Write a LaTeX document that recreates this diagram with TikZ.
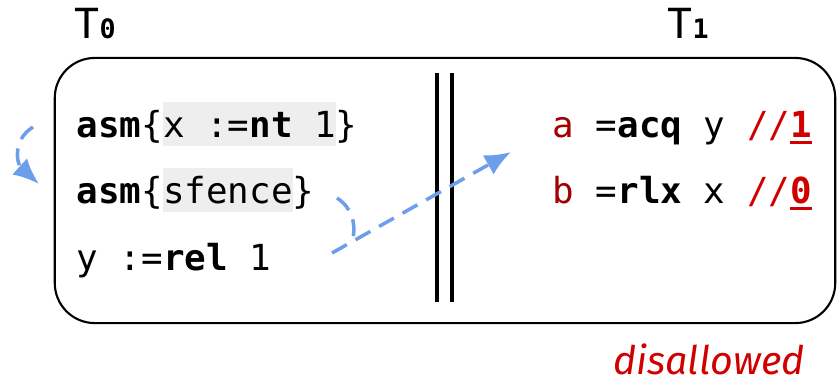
\documentclass[tikz,border=0pt]{standalone}
\usepackage{fontspec}
\setmonofont{DejaVu Sans Mono}
\newfontfamily\notefont{Fira Sans}
\usepackage{xcolor}
\usepackage{tikz}
\usetikzlibrary{arrows.meta,positioning,calc}

\definecolor{flowblue}{HTML}{6D9EEB}
\definecolor{valred}{HTML}{A50000}
\definecolor{outred}{HTML}{D00000}
\definecolor{codebg}{HTML}{EEEEEE}

\newcommand{\hlbox}[1]{{\setlength{\fboxsep}{0pt}\colorbox{codebg}{\rule[-0.09cm]{0pt}{0.44cm}#1}}}
\newcommand{\ulbold}[1]{{\setbox0\hbox{\textbf{#1}}\rlap{\rule[-0.07cm]{\wd0}{0.035cm}}\box0}}
\newcommand{\rdval}[1]{{\color{outred}//\ulbold{#1}}}

\begin{document}
\begin{tikzpicture}[
  x=0.01cm, y=-0.01cm,
  code/.style={inner sep=0pt, anchor=base west, font=\ttfamily\fontsize{10.2}{12}\selectfont},
  thread/.style={inner sep=0pt, anchor=base west, font=\ttfamily\fontsize{11.8}{14}\selectfont},
  threadbox/.style={rectangle, draw, line width=0.6pt, rounded corners=0.4cm, minimum width=7.8cm, minimum height=2.65cm, inner sep=0pt},
  flow/.style={draw=flowblue, line width=1pt, dash pattern=on 0.17cm off 0.1cm},
  tip/.style={-{Latex[length=0.26cm, width=0.22cm]}}
]
\useasboundingbox (0,0) rectangle (840,381);

\node[threadbox] (box) at (445,190.5) {};

\node[thread] (t0) at (74,38) {T{\fontsize{7.6}{9}\selectfont\bfseries 0}};
\node[thread] (t1) at (667,38) {T{\fontsize{7.6}{9}\selectfont\bfseries 1}};

\node[code] (l1) at (76,137) {\textbf{asm}\{\hlbox{x :=\textbf{nt} 1}\}};
\node[code] (l2) at ($(l1.base west)+(0,66)$) {\textbf{asm}\{\hlbox{sfence}\}};
\node[code] (l3) at ($(l2.base west)+(0,67)$) {y :=\textbf{rel} 1};

\node[code] (r1) at ($(l1.base west)+(476,0)$) {{\color{valred}a} =\textbf{acq} y \rdval{1}};
\node[code] (r2) at ($(l2.base west)+(476,0)$) {{\color{valred}b} =\textbf{rlx} x \rdval{0}};

\draw[line width=1.1pt] (437,73) -- (437,302);
\draw[line width=1.1pt] (452,73) -- (452,302);

\node[anchor=base east, inner sep=0pt, text=outred, font=\notefont\itshape\fontsize{11.2}{14}\selectfont] (verdict) at (805,374) {disallowed};

\coordinate (po1) at (33,127);
\coordinate (po2) at (39,184);
\draw[flow, tip] (po1) .. controls (12,140) and (17,164) .. (po2);

\coordinate (fen) at (337,198);
\coordinate (fenend) at (353,238);
\draw[flow] (fen) .. controls (351,207) and (356,222) .. (fenend);

\coordinate (wr) at (332,253);
\coordinate (rd) at (511,152);
\draw[flow, tip] (wr) -- (rd);

\end{tikzpicture}
\end{document}
